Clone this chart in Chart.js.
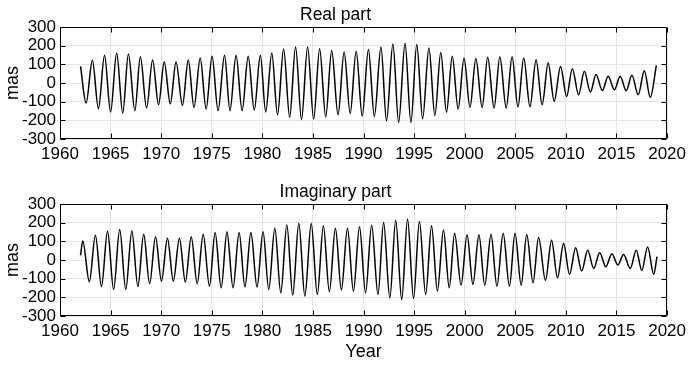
<!DOCTYPE html>
<html>
<head>
<meta charset="utf-8">
<script src="https://cdn.jsdelivr.net/npm/chart.js@4.4.1/dist/chart.umd.min.js"></script>
<style>
  html, body { margin: 0; padding: 0; background: #fff; }
  #wrap { position: relative; width: 691px; height: 366px; }
  canvas { position: absolute; left: 0; }
</style>
</head>
<body>
<div id="wrap">
  <canvas id="realChart" width="691" height="163" style="top:0;width:691px;height:163px"></canvas>
  <canvas id="imagChart" width="691" height="203" style="top:163px;width:691px;height:203px"></canvas>
</div>
<script>
// turning points of the real part (year, mas)
const realYears = [
  1962.03, 1962.58, 1963.2, 1963.8, 1964.4, 1965.0, 1965.6, 1966.2, 1966.76, 1967.4,
  1967.94, 1968.56, 1969.15, 1969.74, 1970.3, 1970.9, 1971.47, 1972.1, 1972.68, 1973.24,
  1973.86, 1974.44, 1975.03, 1975.62, 1976.26, 1976.8, 1977.4, 1978.0, 1978.6, 1979.2,
  1979.8, 1980.33, 1980.93, 1981.5, 1982.1, 1982.7, 1983.28, 1983.87, 1984.47, 1985.07,
  1985.66, 1986.26, 1986.85, 1987.48, 1988.08, 1988.68, 1989.27, 1989.87, 1990.48, 1991.07,
  1991.72, 1992.27, 1992.9, 1993.47, 1994.1, 1994.68, 1995.26, 1995.84, 1996.46, 1997.05,
  1997.63, 1998.2, 1998.77, 1999.35, 1999.93, 2000.52, 2001.1, 2001.72, 2002.27, 2002.9,
  2003.47, 2004.1, 2004.68, 2005.26, 2005.83, 2006.45, 2007.05, 2007.65, 2008.25, 2008.84,
  2009.47, 2010.07, 2010.63, 2011.26, 2011.82, 2012.42, 2012.98, 2013.6, 2014.17, 2014.8,
  2015.36, 2015.96, 2016.52, 2017.15, 2017.75, 2018.34, 2018.94
];
const realMas = [
  89, -107, 122, -138, 148, -156, 161, -161, 156, -148,
  140, -134, 123, -116, 113, -111, 113, -120, 123, -131,
  134, -140, 143, -148, 148, -148, 148, -148, 143, -145,
  148, -156, 161, -170, 182, -184, 193, -195, 193, -193,
  184, -182, 174, -170, 166, -163, 170, -177, 180, -179,
  193, -202, 209, -211, 213, -211, 206, -191, 188, -174,
  163, -156, 143, -140, 134, -131, 131, -131, 138, -134,
  141, -134, 140, -129, 134, -127, 125, -116, 107, -98,
  89, -72, 77, -63, 63, -48, 45, -41, 36, -36,
  36, -41, 41, -63, 66, -77, 95
];

// turning points of the imaginary part (year, mas)
const imagYears = [
  1962.03, 1962.25, 1962.9, 1963.5, 1964.1, 1964.7, 1965.3, 1965.9, 1966.5, 1967.1,
  1967.7, 1968.27, 1968.86, 1969.44, 1970.03, 1970.62, 1971.2, 1971.8, 1972.39, 1972.97,
  1973.56, 1974.15, 1974.77, 1975.33, 1975.93, 1976.5, 1977.1, 1977.7, 1978.28, 1978.87,
  1979.47, 1980.07, 1980.63, 1981.23, 1981.82, 1982.42, 1983.0, 1983.6, 1984.2, 1984.83,
  1985.43, 1986.03, 1986.62, 1987.22, 1987.81, 1988.41, 1989.0, 1989.6, 1990.2, 1990.8,
  1991.43, 1991.98, 1992.6, 1993.18, 1993.77, 1994.35, 1994.94, 1995.52, 1996.14, 1996.72,
  1997.3, 1997.9, 1998.47, 1999.0, 1999.64, 2000.23, 2000.81, 2001.4, 2001.98, 2002.6,
  2003.18, 2003.8, 2004.42, 2004.97, 2005.58, 2006.13, 2006.75, 2007.3, 2007.98, 2008.58,
  2009.17, 2009.77, 2010.36, 2010.96, 2011.56, 2012.15, 2012.75, 2013.34, 2013.94, 2014.54,
  2015.13, 2015.7, 2016.36, 2016.95, 2017.5, 2018.08, 2018.68, 2019.0
];
const imagMas = [
  25, 102, -117, 133, -142, 156, -158, 163, -158, 156,
  -142, 138, -127, 124, -113, 117, -113, 117, -118, 124,
  -127, 138, -140, 147, -149, 152, -149, 147, -145, 147,
  -145, 152, -158, 170, -176, 188, -188, 197, -194, 196,
  -185, 183, -170, 170, -161, 170, -167, 178, -176, 186,
  -185, 201, -203, 213, -212, 219, -206, 206, -185, 183,
  -167, 161, -149, 143, -135, 135, -131, 135, -135, 138,
  -140, 143, -140, 143, -135, 136, -122, 120, -109, 106,
  -95, 88, -77, 66, -59, 52, -45, 39, -36, 34,
  -27, 30, -45, 52, -56, 70, -77, 18
];

const FONT = 'Liberation Sans, Arial, sans-serif';

// black box around the plot area with inward ticks on all four sides
const framePlugin = {
  id: 'frame',
  afterDraw(chart) {
    const { ctx, chartArea: a, scales } = chart;
    const l = Math.round(a.left) + 0.5, r = Math.round(a.right) - 0.5;
    const t = Math.round(a.top) + 0.5, b = Math.round(a.bottom) - 0.5;
    const len = 5;
    ctx.save();
    ctx.strokeStyle = '#000';
    ctx.lineWidth = 1;
    ctx.beginPath();
    ctx.rect(l, t, r - l, b - t);
    scales.x.ticks.forEach(tk => {
      const px = Math.round(scales.x.getPixelForValue(tk.value)) + 0.5;
      ctx.moveTo(px, b); ctx.lineTo(px, b - len);
      ctx.moveTo(px, t); ctx.lineTo(px, t + len);
    });
    scales.y.ticks.forEach(tk => {
      const py = Math.round(scales.y.getPixelForValue(tk.value)) + 0.5;
      ctx.moveTo(l, py); ctx.lineTo(l + len, py);
      ctx.moveTo(r, py); ctx.lineTo(r - len, py);
    });
    ctx.stroke();
    ctx.restore();
  }
};

function makeChart(id, title, years, values, opts) {
  const points = years.map((yr, i) => ({ x: yr, y: values[i] }));
  return new Chart(document.getElementById(id), {
    type: 'line',
    data: {
      datasets: [{
        data: points,
        borderColor: '#000',
        borderWidth: 1.5,
        pointRadius: 0,
        cubicInterpolationMode: 'monotone',
        fill: false
      }]
    },
    options: {
      responsive: false,
      animation: false,
      layout: { padding: { left: 0, right: 20, top: 0, bottom: 0 } },
      plugins: {
        legend: { display: false },
        tooltip: { enabled: false },
        title: {
          display: true,
          text: title,
          color: '#000',
          font: { family: FONT, size: 17.5, weight: 'normal' },
          padding: { top: opts.titleTop, bottom: 1 }
        }
      },
      scales: {
        x: {
          type: 'linear',
          min: 1960,
          max: 2020,
          afterFit: s => { s.height = opts.xHeight; },
          grid: { color: '#e4e4e4', drawTicks: false },
          border: { display: false },
          ticks: {
            stepSize: 5,
            padding: 5,
            autoSkip: false,
            maxRotation: 0,
            color: '#000',
            font: { family: FONT, size: 17 },
            callback: v => String(v)
          },
          title: {
            display: !!opts.xTitle,
            text: opts.xTitle || '',
            color: '#000',
            font: { family: FONT, size: 18 },
            padding: { top: 0, bottom: 3 }
          }
        },
        y: {
          min: -300,
          max: 300,
          afterFit: s => { s.width = 60; },
          grid: { color: '#e4e4e4', drawTicks: false },
          border: { display: false },
          ticks: {
            stepSize: 100,
            padding: 4,
            autoSkip: false,
            color: '#000',
            font: { family: FONT, size: 17 },
            callback: v => String(v)
          },
          title: {
            display: true,
            text: 'mas',
            color: '#000',
            font: { family: FONT, size: 18 },
            padding: { top: 2, bottom: 0 }
          }
        }
      }
    },
    plugins: [framePlugin]
  });
}

makeChart('realChart', 'Real part', realYears, realMas, { titleTop: 5, xHeight: 24 });
makeChart('imagChart', 'Imaginary part', imagYears, imagMas, { titleTop: 19, xHeight: 50, xTitle: 'Year' });
</script>
</body>
</html>
